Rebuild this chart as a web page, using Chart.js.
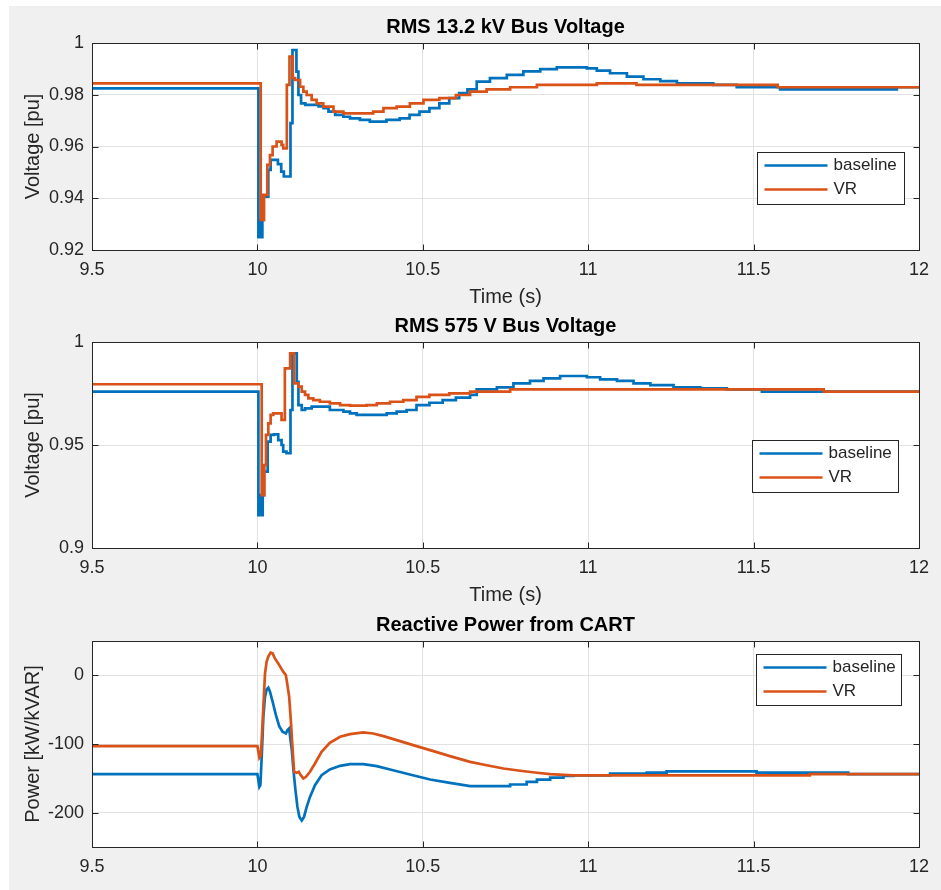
<!DOCTYPE html>
<html>
<head>
<meta charset="utf-8">
<title>CART bus voltages and reactive power</title>
<script src="https://cdn.jsdelivr.net/npm/chart.js@4.4.1/dist/chart.umd.min.js"></script>
<style>
  body { margin: 0; background: #fff; }
  #fig { position: relative; width: 941px; height: 890px; overflow: hidden; }
  #bg { position: absolute; left: 9px; top: 6px; right: 0; bottom: 0; background: #f0f0f0; }
  canvas { position: absolute; left: 0; top: 0; }
</style>
</head>
<body>
<div id="fig">
  <div id="bg"></div>
  <canvas id="busHV" width="941" height="890"></canvas>
  <canvas id="busLV" width="941" height="890"></canvas>
  <canvas id="qCart" width="941" height="890"></canvas>
</div>
<script>
// ---- data ----
const xTicks = [9.5, 10, 10.5, 11, 11.5, 12];
const hvTicks = [0.92, 0.94, 0.96, 0.98, 1];
const lvTicks = [0.9, 0.95, 1];
const qTicks = [-200, -100, 0];

// RMS 13.2 kV bus voltage [pu] (sample-and-hold)
const tHvBase = [9.5, 10.003, 10.008, 10.011, 10.015, 10.019, 10.033, 10.040, 10.062, 10.072, 10.080, 10.100, 10.106, 10.118, 10.124, 10.132, 10.145, 10.185, 10.200, 10.215, 10.235, 10.260, 10.280, 10.310, 10.340, 10.390, 10.430, 10.460, 10.490, 10.520, 10.550, 10.580, 10.610, 10.635, 10.663, 10.703, 10.754, 10.804, 10.855, 10.905, 10.996, 11.026, 11.066, 11.117, 11.167, 11.218, 11.268, 11.378, 11.449, 11.580, 11.933, 12.0];
const vHvBase = [0.9825, 0.9250, 0.9316, 0.9250, 0.9316, 0.9406, 0.9510, 0.9548, 0.9532, 0.9503, 0.9484, 0.9690, 0.9973, 0.9889, 0.9799, 0.9767, 0.9761, 0.9755, 0.9748, 0.9735, 0.9722, 0.9715, 0.9709, 0.9703, 0.9696, 0.9703, 0.9709, 0.9722, 0.9735, 0.9748, 0.9767, 0.9787, 0.9806, 0.9821, 0.9851, 0.9864, 0.9877, 0.9890, 0.9899, 0.9906, 0.9902, 0.9893, 0.9883, 0.9870, 0.9860, 0.9853, 0.9844, 0.9838, 0.9829, 0.9821, 0.9829, 0.9829];
const tHvVR = [9.5, 10.010, 10.014, 10.016, 10.020, 10.030, 10.038, 10.046, 10.058, 10.073, 10.078, 10.089, 10.097, 10.107, 10.114, 10.129, 10.139, 10.149, 10.164, 10.179, 10.199, 10.230, 10.260, 10.350, 10.381, 10.421, 10.461, 10.502, 10.550, 10.600, 10.643, 10.693, 10.764, 10.845, 11.026, 11.146, 11.573, 12.0];
const vHvVR = [0.9844, 0.9316, 0.9413, 0.9316, 0.9413, 0.9529, 0.9567, 0.9600, 0.9619, 0.9606, 0.9593, 0.9838, 0.9947, 0.9864, 0.9857, 0.9831, 0.9812, 0.9799, 0.9780, 0.9767, 0.9754, 0.9735, 0.9728, 0.9735, 0.9748, 0.9754, 0.9767, 0.9780, 0.9787, 0.9799, 0.9812, 0.9821, 0.9829, 0.9838, 0.9844, 0.9838, 0.9829, 0.9829];

// RMS 575 V bus voltage [pu]
const tLvBase = [9.5, 10.003, 10.008, 10.011, 10.016, 10.020, 10.031, 10.040, 10.050, 10.063, 10.073, 10.078, 10.088, 10.100, 10.106, 10.119, 10.124, 10.134, 10.144, 10.164, 10.219, 10.260, 10.280, 10.300, 10.391, 10.421, 10.451, 10.481, 10.520, 10.560, 10.600, 10.643, 10.663, 10.724, 10.774, 10.824, 10.865, 10.915, 10.996, 11.036, 11.087, 11.137, 11.188, 11.258, 11.339, 11.419, 11.525, 12.0];
const vLvBase = [0.9759, 0.9160, 0.9257, 0.9160, 0.9257, 0.9371, 0.9516, 0.9549, 0.9552, 0.9524, 0.9500, 0.9468, 0.9460, 0.9670, 0.9945, 0.9807, 0.9694, 0.9670, 0.9678, 0.9686, 0.9670, 0.9662, 0.9654, 0.9646, 0.9654, 0.9662, 0.9670, 0.9694, 0.9705, 0.9718, 0.9730, 0.9743, 0.9770, 0.9780, 0.9799, 0.9811, 0.9823, 0.9835, 0.9829, 0.9819, 0.9811, 0.9799, 0.9791, 0.9780, 0.9775, 0.9770, 0.9759, 0.9759];
const tLvVR = [9.5, 10.013, 10.016, 10.018, 10.021, 10.026, 10.033, 10.040, 10.048, 10.073, 10.083, 10.099, 10.111, 10.124, 10.134, 10.144, 10.154, 10.169, 10.189, 10.219, 10.250, 10.280, 10.330, 10.361, 10.401, 10.441, 10.481, 10.520, 10.580, 10.643, 10.764, 11.712, 12.0];
const vLvVR = [0.9795, 0.9257, 0.9403, 0.9257, 0.9403, 0.9549, 0.9605, 0.9646, 0.9654, 0.9622, 0.9872, 0.9945, 0.9799, 0.9783, 0.9759, 0.9743, 0.9726, 0.9718, 0.9710, 0.9702, 0.9694, 0.9691, 0.9694, 0.9702, 0.9710, 0.9718, 0.9734, 0.9743, 0.9751, 0.9759, 0.9770, 0.9759, 0.9759];

// Reactive power from CART [kVAR]
const tQBase = [9.5, 10.000, 10.006, 10.009, 10.013, 10.018, 10.023, 10.028, 10.033, 10.038, 10.046, 10.056, 10.066, 10.076, 10.086, 10.091, 10.096, 10.099, 10.104, 10.109, 10.115, 10.121, 10.127, 10.134, 10.141, 10.149, 10.159, 10.174, 10.194, 10.219, 10.250, 10.280, 10.320, 10.361, 10.401, 10.461, 10.522, 10.582, 10.643, 10.764, 10.764, 10.814, 10.814, 10.845, 10.845, 10.885, 10.885, 10.925, 10.925, 10.955, 10.955, 11.066, 11.066, 11.177, 11.177, 11.237, 11.237, 11.509, 11.509, 11.786, 11.786, 12.0];
const qBase = [-143.9, -143.9, -162.4, -160, -118.7, -60.3, -31.2, -20.5, -18, -23.9, -38.5, -57.9, -74, -82.2, -84.7, -79.8, -77.4, -89.5, -109, -138.1, -167.3, -191.6, -206.2, -211.5, -206.2, -191.6, -177, -160, -145.4, -137.1, -131.8, -129.4, -129.4, -132.3, -137.1, -144.4, -151.7, -156.6, -161.4, -161.4, -159, -159, -155.3, -155.3, -151.9, -151.9, -149, -149, -146.6, -146.6, -145.8, -145.8, -143.2, -143.2, -141.7, -141.7, -139.8, -139.8, -141.7, -141.7, -143.8, -143.8];
const tQVR = [9.5, 10.000, 10.006, 10.010, 10.013, 10.018, 10.023, 10.028, 10.033, 10.040, 10.046, 10.053, 10.063, 10.078, 10.086, 10.090, 10.096, 10.101, 10.106, 10.111, 10.119, 10.125, 10.131, 10.139, 10.147, 10.159, 10.174, 10.194, 10.219, 10.250, 10.280, 10.320, 10.350, 10.381, 10.431, 10.481, 10.532, 10.582, 10.643, 10.693, 10.744, 10.794, 10.845, 10.885, 10.955, 11.670, 11.670, 12.0];
const qVR = [-103, -103, -120, -117, -94.4, -45.8, 2.9, 19.9, 27.2, 33, 32, 24.7, 17.4, 5.3, 0.4, -11.7, -31.2, -65.2, -104.1, -140.5, -142, -140.5, -145.4, -150.3, -147.8, -140.5, -128.4, -111.4, -98.3, -89.5, -85.6, -83.2, -84.7, -88.5, -95.8, -103.1, -110.4, -117.7, -126, -130.9, -135.7, -139, -141.9, -143.8, -145.8, -145.8, -143.8, -143.8];

// ---- style ----
const BLUE = "#0072BD";
const ORANGE = "#D95319";
const AXIS = "#262626";
const GRID = "#e2e2e2";
const FONT = "'Liberation Sans', Arial, Helvetica, sans-serif";

const toPoints = (ts, vs) => ts.map((t, i) => ({ x: t, y: vs[i] }));
const fmt = (v) => String(+Number(v).toFixed(3));

// white axes area, MATLAB-like box with inward ticks and a boxed legend
const axesBox = {
  id: "axesBox",
  beforeDraw(chart) {
    const { ctx, chartArea: a } = chart;
    ctx.save();
    ctx.fillStyle = "#fff";
    ctx.fillRect(a.left, a.top, a.width, a.height);
    ctx.restore();
  },
  afterDraw(chart, args, opts) {
    const { ctx, chartArea: a, scales } = chart;
    const L = Math.round(a.left) + 0.5, R = Math.round(a.right) + 0.5;
    const T = Math.round(a.top) + 0.5, B = Math.round(a.bottom) + 0.5;
    ctx.save();
    ctx.strokeStyle = AXIS;
    ctx.lineWidth = 1;
    ctx.beginPath();
    scales.x.ticks.forEach((t) => {
      const px = Math.round(scales.x.getPixelForValue(t.value)) + 0.5;
      ctx.moveTo(px, B); ctx.lineTo(px, B - 6);
      ctx.moveTo(px, T); ctx.lineTo(px, T + 6);
    });
    scales.y.ticks.forEach((t) => {
      const py = Math.round(scales.y.getPixelForValue(t.value)) + 0.5;
      ctx.moveTo(L, py); ctx.lineTo(L + 6, py);
      ctx.moveTo(R, py); ctx.lineTo(R - 6, py);
    });
    ctx.stroke();
    ctx.strokeRect(L, T, R - L, B - T);

    // legend
    const lg = opts.legend;
    const x0 = Math.round(a.right - lg.right - lg.w) + 0.5;
    const y0 = Math.round(a.top + lg.top) + 0.5;
    ctx.fillStyle = "#fff";
    ctx.fillRect(x0, y0, lg.w, lg.h);
    ctx.strokeRect(x0, y0, lg.w, lg.h);
    ctx.font = `17px ${FONT}`;
    ctx.textBaseline = "middle";
    chart.data.datasets.forEach((ds, i) => {
      const cy = y0 + 13 + i * 24;
      ctx.strokeStyle = ds.borderColor;
      ctx.lineWidth = 2.7;
      ctx.beginPath();
      ctx.moveTo(x0 + 7, cy);
      ctx.lineTo(x0 + 70, cy);
      ctx.stroke();
      ctx.fillStyle = AXIS;
      ctx.fillText(ds.label, x0 + 76, cy);
    });
    ctx.restore();
  },
};

const makePanel = (id, cfg) =>
  new Chart(document.getElementById(id), {
    type: "line",
    data: {
      datasets: [
        { label: "baseline", data: toPoints(cfg.tBase, cfg.vBase), borderColor: BLUE, order: 2, stepped: cfg.stepped },
        { label: "VR", data: toPoints(cfg.tVR, cfg.vVR), borderColor: ORANGE, order: 1, stepped: cfg.stepped },
      ],
    },
    options: {
      responsive: false,
      animation: false,
      events: [],
      layout: { padding: { left: 12, right: 22, top: cfg.padTop, bottom: cfg.padBottom } },
      elements: {
        point: { radius: 0 },
        line: { borderWidth: 2.7, tension: 0, fill: false },
      },
      plugins: {
        legend: { display: false },
        tooltip: { enabled: false },
        title: {
          display: true,
          fullSize: false,
          text: cfg.title,
          color: "#000",
          font: { family: FONT, size: 20, weight: "bold" },
          padding: { top: 15, bottom: 4 },
        },
        axesBox: { legend: cfg.legend },
      },
      scales: {
        x: {
          type: "linear",
          min: 9.5,
          max: 12,
          afterBuildTicks: (s) => { s.ticks = xTicks.map((value) => ({ value })); },
          afterFit: (s) => { s.height = cfg.xTitle ? 60 : 40; },
          grid: { color: GRID, drawTicks: false },
          border: { display: false },
          ticks: { padding: 9, color: AXIS, font: { family: FONT, size: 18 }, callback: fmt },
          title: {
            display: !!cfg.xTitle,
            text: cfg.xTitle || "",
            color: AXIS,
            font: { family: FONT, size: 20 },
            padding: { top: 0, bottom: 1 },
          },
        },
        y: {
          type: "linear",
          min: cfg.yMin,
          max: cfg.yMax,
          afterBuildTicks: (s) => { s.ticks = cfg.yTicks.map((value) => ({ value })); },
          afterFit: (s) => { s.width = 80; },
          grid: { color: GRID, drawTicks: false },
          border: { display: false },
          ticks: { padding: 8, color: AXIS, font: { family: FONT, size: 18 }, callback: fmt },
          title: {
            display: true,
            text: cfg.yTitle,
            color: AXIS,
            font: { family: FONT, size: 20 },
            padding: { top: 9, bottom: 0 },
          },
        },
      },
    },
    plugins: [axesBox],
  });

makePanel("busHV", {
  title: "RMS 13.2 kV Bus Voltage",
  tBase: tHvBase, vBase: vHvBase, tVR: tHvVR, vVR: vHvVR,
  stepped: true,
  yMin: 0.92, yMax: 1, yTicks: hvTicks,
  yTitle: "Voltage [pu]", xTitle: "Time (s)",
  padTop: 0, padBottom: 580,
  legend: { right: 15, top: 109, w: 147, h: 52 },
});

makePanel("busLV", {
  title: "RMS 575 V Bus Voltage",
  tBase: tLvBase, vBase: vLvBase, tVR: tLvVR, vVR: vLvVR,
  stepped: true,
  yMin: 0.9, yMax: 1, yTicks: lvTicks,
  yTitle: "Voltage [pu]", xTitle: "Time (s)",
  padTop: 299, padBottom: 282,
  legend: { right: 21, top: 98, w: 146, h: 52 },
});

makePanel("qCart", {
  title: "Reactive Power from CART",
  tBase: tQBase, vBase: qBase, tVR: tQVR, vVR: qVR,
  stepped: false,
  yMin: -250, yMax: 50, yTicks: qTicks,
  yTitle: "Power [kW/kVAR]", xTitle: null,
  padTop: 598, padBottom: 3,
  legend: { right: 18, top: 13, w: 145, h: 51 },
});
</script>
</body>
</html>
